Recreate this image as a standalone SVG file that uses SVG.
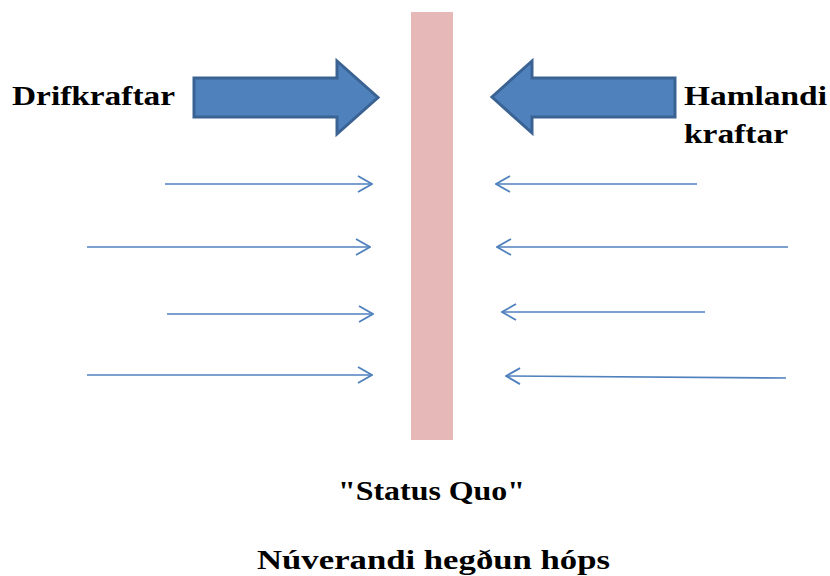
<svg xmlns="http://www.w3.org/2000/svg" width="830" height="576" viewBox="0 0 830 576">
  <defs>
    <style>
      .lbl { font-family: "Liberation Serif", "DejaVu Serif", serif; font-weight: bold; font-size: 27px; fill: #000; }
      .big { fill: #4F81BD; stroke: #3A6293; stroke-width: 3; stroke-linejoin: miter; }
      .thin { stroke: #4F81BD; stroke-width: 1.6; fill: none; }
    </style>
    <marker id="open" viewBox="0 0 16 18" refX="15" refY="9" markerWidth="16" markerHeight="18" markerUnits="userSpaceOnUse" orient="auto">
      <path d="M1,1 L15,9 L1,17" fill="none" stroke="#4F81BD" stroke-width="1.8"/>
    </marker>
  </defs>
  <rect width="830" height="576" fill="#fff"/>

  <g id="status-quo-bar">
    <rect x="411" y="12" width="42" height="428" fill="#E6B8B7"/>
  </g>

  <g id="driving-forces">
    <path class="big" d="M194,78 L337,78 L337,61 L378,97.5 L337,134 L337,117 L194,117 Z"/>
    <text class="lbl" x="12" y="105" textLength="163" lengthAdjust="spacingAndGlyphs">Drifkraftar</text>
  </g>

  <g id="restraining-forces">
    <path class="big" d="M675,78 L532,78 L532,61 L492,97 L532,133 L532,117 L675,117 Z"/>
    <text class="lbl" x="684" y="105" textLength="143" lengthAdjust="spacingAndGlyphs">Hamlandi</text>
    <text class="lbl" x="684" y="143" textLength="104" lengthAdjust="spacingAndGlyphs">kraftar</text>
  </g>

  <g id="connectors">
    <line class="thin" x1="165" y1="184" x2="372" y2="184" marker-end="url(#open)"/>
    <line class="thin" x1="87" y1="247" x2="370" y2="247" marker-end="url(#open)"/>
    <line class="thin" x1="167" y1="314" x2="373" y2="314" marker-end="url(#open)"/>
    <line class="thin" x1="87" y1="375" x2="372" y2="375" marker-end="url(#open)"/>
    <line class="thin" x1="697" y1="184" x2="496" y2="184" marker-end="url(#open)"/>
    <line class="thin" x1="788" y1="247" x2="497" y2="247" marker-end="url(#open)"/>
    <line class="thin" x1="705" y1="312" x2="502" y2="312" marker-end="url(#open)"/>
    <line class="thin" x1="786" y1="378" x2="506" y2="376" marker-end="url(#open)"/>
  </g>

  <g id="captions">
    <text class="lbl" x="338" y="500" textLength="187" lengthAdjust="spacingAndGlyphs">"Status Quo"</text>
    <text class="lbl" x="257" y="569" textLength="353" lengthAdjust="spacingAndGlyphs">Núverandi hegðun hóps</text>
  </g>
</svg>
